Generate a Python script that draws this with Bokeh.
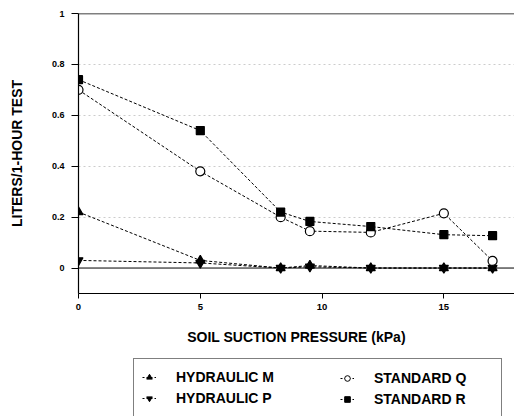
from bokeh.plotting import figure
from bokeh.layouts import column
from bokeh.models import Legend, LegendItem, Span, FixedTicker, Range1d
from bokeh.embed import file_html
from bokeh.resources import INLINE

# Soil suction pressure (kPa) at which each test was run
suction_kpa = [0, 5, 8.3, 9.5, 12, 15, 17]

# Liters collected per 1-hour test
hydraulic_m = [0.22, 0.03, 0.0, 0.01, 0.0, 0.0, 0.0]
hydraulic_p = [0.03, 0.02, 0.0, 0.005, 0.0, 0.0, 0.0]
standard_q = [0.70, 0.38, 0.20, 0.145, 0.14, 0.215, 0.028]
standard_r = [0.74, 0.54, 0.22, 0.183, 0.163, 0.131, 0.127]

series_names = ["HYDRAULIC M", "HYDRAULIC P", "STANDARD Q", "STANDARD R"]

x_ticks = [0, 5, 10, 15]
y_ticks = [0, 0.2, 0.4, 0.6, 0.8, 1]
y_tick_labels = ["0", "0.2", "0.4", "0.6", "0.8", "1"]

FONT = "Liberation Sans"
WIDTH = 514
TOP_H = 352
KEY_H = 64

p = figure(
    width=WIDTH, height=TOP_H,
    x_range=Range1d(0, 17.9), y_range=Range1d(-0.1, 1.0),
    min_border_left=78, min_border_right=0,
    min_border_top=13, min_border_bottom=TOP_H - 293,
    output_backend="svg", toolbar_location=None,
    background_fill_color="white", border_fill_color="white",
)
p.outline_line_color = None

# axes
for ax in (p.xaxis[0], p.yaxis[0]):
    ax.axis_line_color = "black"
    ax.axis_line_width = 1.2
    ax.major_tick_line_color = "black"
    ax.major_tick_in = 0
    ax.minor_tick_line_color = None
    ax.major_label_text_font = FONT
    ax.major_label_text_font_style = "bold"
    ax.major_label_text_color = "black"
    ax.axis_label_text_font = FONT
    ax.axis_label_text_font_style = "bold"
    ax.axis_label_text_color = "black"
    ax.axis_label_text_font_size = "14px"

p.xaxis.ticker = FixedTicker(ticks=x_ticks)
p.xaxis.major_tick_out = 5
p.xaxis.major_label_text_font_size = "9.5px"
p.xaxis.major_label_standoff = 5
p.xaxis.axis_label = "SOIL SUCTION PRESSURE (kPa)"
p.xaxis.axis_label_standoff = 16

p.yaxis.ticker = FixedTicker(ticks=y_ticks)
p.yaxis.major_label_overrides = dict(zip(y_ticks, y_tick_labels))
p.yaxis.major_tick_out = 7
p.yaxis.major_label_text_font_size = "9px"
p.yaxis.major_label_standoff = 7
p.yaxis.axis_label = "LITERS/1-HOUR TEST"
p.yaxis.axis_label_standoff = 24

# faint dotted grid between the zero line and the top line
p.xgrid.grid_line_color = None
p.ygrid.ticker = FixedTicker(ticks=y_ticks[1:-1])
p.ygrid.grid_line_color = "#cccccc"
p.ygrid.grid_line_dash = "2 3"
p.ygrid.grid_line_width = 1

p.add_layout(Span(location=y_ticks[0], dimension="width",
                  line_color="black", line_width=1))
p.add_layout(Span(location=y_ticks[-1], dimension="width",
                  line_color="black", line_width=1.6))

series = [hydraulic_m, hydraulic_p, standard_q, standard_r]
markers = [("triangle", "black", 9), ("inverted_triangle", "black", 9),
           ("circle", "white", 9), ("square", "black", 8)]

line_kw = dict(line_color="black", line_width=1, line_dash="3 2")

for vals, (marker, fill, size) in zip(series, markers):
    p.line(suction_kpa, vals, **line_kw)
    p.scatter(suction_kpa, vals, marker=marker, size=size,
              fill_color=fill, line_color="black", line_width=1.2)

# key panel underneath the chart; its own copies of the series sit
# outside its (unused) y range so only the legend swatches show
key = figure(
    width=WIDTH, height=KEY_H,
    x_range=Range1d(0, 17.9), y_range=Range1d(10, 11),
    min_border_left=0, min_border_right=0,
    min_border_top=0, min_border_bottom=0,
    x_axis_location=None, y_axis_location=None,
    output_backend="svg", toolbar_location=None,
    background_fill_color="white", border_fill_color="white",
)
key.outline_line_color = None
key.grid.visible = False

items = []
for name, vals, (marker, fill, size) in zip(series_names, series, markers):
    ln = key.line(suction_kpa, vals, line_color="black", line_width=1,
                  line_dash="2 2")
    sc = key.scatter(suction_kpa, vals, marker=marker, size=size - 2.5,
                     fill_color=fill, line_color="black", line_width=1)
    items.append(LegendItem(label=name, renderers=[ln, sc]))

common = dict(
    orientation="vertical",
    glyph_width=14, glyph_height=20, label_height=20,
    label_standoff=20, padding=8, spacing=1, margin=0,
    label_text_font=FONT, label_text_font_style="bold",
    label_text_font_size="14px", label_text_color="black",
)

legend_left = Legend(items=items[:2], location=(55, -1),
                     label_width=317,
                     border_line_color="black", border_line_width=1.2,
                     background_fill_color="white", background_fill_alpha=1,
                     **common)
# invisible border keeps the same padding as the boxed column
legend_right = Legend(items=items[2:], location=(254, -1),
                      border_line_color="white", border_line_alpha=0,
                      background_fill_alpha=0,
                      **common)
key.add_layout(legend_left)
key.add_layout(legend_right)

page = column(p, key, spacing=0)
open("out.html", "w").write(file_html(page, INLINE))
